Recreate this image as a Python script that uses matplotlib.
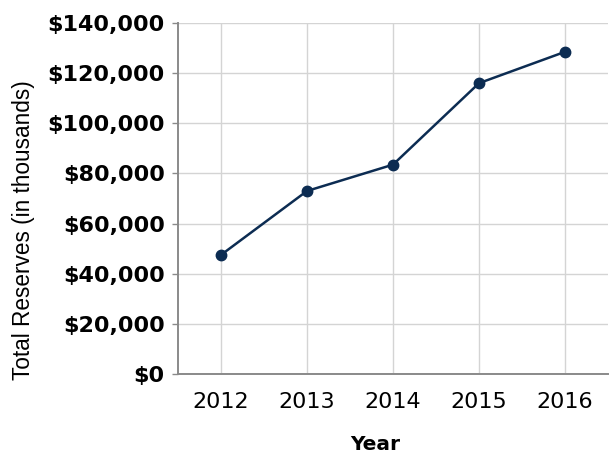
import matplotlib
matplotlib.use('Agg')
import matplotlib.pyplot as plt
from matplotlib.ticker import FuncFormatter

# Data
years = ['2012', '2013', '2014', '2015', '2016']
reserves = [47500, 73000, 83500, 116000, 128500]

line_color = '#0c2c52'
grid_color = '#d4d4d4'
spine_color = '#8a8a8a'

fig = plt.figure(figsize=(6.11, 4.53), dpi=100)
ax = fig.add_axes([178 / 611, 1 - 374 / 453, (608 - 178) / 611, (374 - 23) / 453])

x = list(range(len(years)))
ax.plot(x, reserves, color=line_color, linewidth=1.8, marker='o', markersize=7.5)

ax.set_xlim(-0.5, len(years) - 0.5)
ax.set_ylim(0, 140000)
ax.set_yticks(range(0, 140001, 20000))
ax.yaxis.set_major_formatter(FuncFormatter(lambda v, p: f'${v:,.0f}'))
ax.set_xticks(x)
ax.set_xticklabels(years)

ax.grid(True, color=grid_color, linewidth=1.0)
ax.set_axisbelow(True)

for side in ['top', 'right']:
    ax.spines[side].set_visible(False)
for side in ['left', 'bottom']:
    ax.spines[side].set_color(spine_color)
    ax.spines[side].set_linewidth(1.4)

ax.tick_params(axis='y', length=4.5, width=1.0, color=spine_color, pad=5)
ax.tick_params(axis='x', length=0, pad=13)
for lbl in ax.get_yticklabels():
    lbl.set_fontsize(16)
    lbl.set_fontweight('bold')
for lbl in ax.get_xticklabels():
    lbl.set_fontsize(16)

fig.text(375 / 611, 1 - 444.5 / 453, 'Year', fontsize=14.5, fontweight='bold',
         ha='center', va='center')
fig.text(24 / 611, 1 - 230 / 453, 'Total Reserves (in thousands)', fontsize=16.3,
         family='Liberation Sans', rotation=90, ha='center', va='center')

fig.savefig('out.png', dpi=100)
